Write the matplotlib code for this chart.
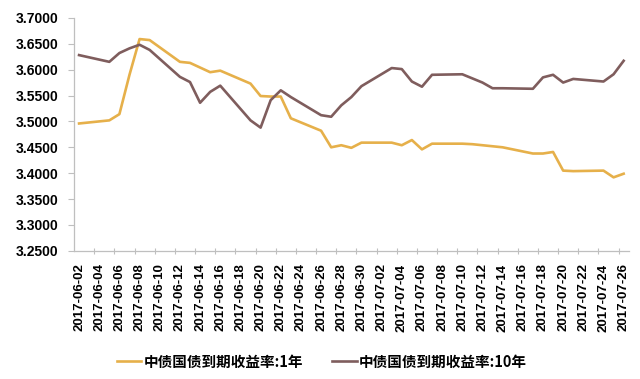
import numpy as np
import pandas as pd
import matplotlib
matplotlib.use("Agg")
import matplotlib.pyplot as plt
import matplotlib.dates as mdates
from matplotlib.ticker import FixedLocator, FormatStrFormatter

# ---------------------------------------------------------
# Data: ChinaBond treasury yields (%), trading days only
# ---------------------------------------------------------
dates = pd.to_datetime([
    "2017-06-02", "2017-06-05", "2017-06-06", "2017-06-07", "2017-06-08", "2017-06-09",
    "2017-06-12", "2017-06-13", "2017-06-14", "2017-06-15", "2017-06-16",
    "2017-06-19", "2017-06-20", "2017-06-21", "2017-06-22", "2017-06-23",
    "2017-06-26", "2017-06-27", "2017-06-28", "2017-06-29", "2017-06-30",
    "2017-07-03", "2017-07-04", "2017-07-05", "2017-07-06", "2017-07-07",
    "2017-07-10", "2017-07-11", "2017-07-12", "2017-07-13", "2017-07-14",
    "2017-07-17", "2017-07-18", "2017-07-19", "2017-07-20", "2017-07-21",
    "2017-07-24", "2017-07-25", "2017-07-26",
])

yield_1y = [
    3.496, 3.502, 3.514, 3.590, 3.659, 3.657,
    3.615, 3.613, 3.604, 3.595, 3.598,
    3.573, 3.549, 3.548, 3.548, 3.506,
    3.482, 3.450, 3.454, 3.449, 3.459,
    3.459, 3.454, 3.464, 3.446, 3.457,
    3.457, 3.456, 3.454, 3.452, 3.450,
    3.438, 3.438, 3.441, 3.405, 3.404,
    3.405, 3.392, 3.399,
]

yield_10y = [
    3.628, 3.615, 3.632, 3.641, 3.648, 3.638,
    3.586, 3.576, 3.536, 3.557, 3.569,
    3.502, 3.488, 3.541, 3.560, 3.547,
    3.512, 3.509, 3.531, 3.547, 3.568,
    3.603, 3.601, 3.577, 3.567, 3.590,
    3.591, 3.583, 3.575, 3.564, 3.564,
    3.563, 3.585, 3.590, 3.575, 3.582,
    3.577, 3.591, 3.617,
]

label_1y = "中债国债到期收益率:1年"
label_10y = "中债国债到期收益率:10年"

c_1y = "#E6B04A"
c_10y = "#7F5D5D"
axis_grey = "#BFBFBF"

# ---------------------------------------------------------
# Plot
# ---------------------------------------------------------
fig = plt.figure(figsize=(6.4, 3.79), dpi=100)
ax = fig.add_axes([0.115, 0.338, 0.868, 0.615])

ax.plot(dates, yield_1y, color=c_1y, linewidth=1.9, label=label_1y)
ax.plot(dates, yield_10y, color=c_10y, linewidth=1.9, label=label_10y)

# y axis
ax.set_ylim(3.25, 3.70)
ax.set_yticks(np.arange(3.25, 3.7001, 0.05))
ax.yaxis.set_major_formatter(FormatStrFormatter("%.4f"))
ax.tick_params(axis="y", direction="out", length=4, width=0.8, color=axis_grey, pad=7)
for t in ax.get_yticklabels():
    t.set_fontfamily(["Liberation Sans", "DejaVu Sans"])
    t.set_fontweight("bold")
    t.set_fontsize(10)

# x axis: label every 2 days, tick marks between labels
half = pd.Timedelta(hours=13)
ax.set_xlim(dates[0] - half, dates[-1] + half)
label_days = pd.date_range("2017-06-02", "2017-07-26")
label_days = label_days[label_days.day % 2 == 0]
ax.xaxis.set_major_locator(FixedLocator(mdates.date2num(label_days)))
ax.xaxis.set_major_formatter(mdates.DateFormatter("%Y-%m-%d"))
tick_marks = label_days + pd.Timedelta(hours=36)
tick_marks = tick_marks[tick_marks < dates[-1]]
ax.xaxis.set_minor_locator(FixedLocator(mdates.date2num(tick_marks)))
ax.tick_params(axis="x", which="major", length=0, pad=9)
ax.tick_params(axis="x", which="minor", direction="inout", length=5, width=0.8, color=axis_grey)
for t in ax.get_xticklabels():
    t.set_rotation(90)
    t.set_fontfamily(["Liberation Sans", "DejaVu Sans"])
    t.set_fontweight("bold")
    t.set_fontsize(9.5)

for side in ["top", "right"]:
    ax.spines[side].set_visible(False)
for side in ["left", "bottom"]:
    ax.spines[side].set_color(axis_grey)
    ax.spines[side].set_linewidth(0.9)

fig.legend(loc="center", bbox_to_anchor=(0.503, 0.046), ncol=2, frameon=False,
           handlelength=1.7, handletextpad=0.15, columnspacing=2.0,
           prop={"family": ["Noto Sans CJK SC", "DejaVu Sans"], "weight": "bold", "size": 10.5})

fig.savefig("out.png", dpi=100, facecolor="white")
